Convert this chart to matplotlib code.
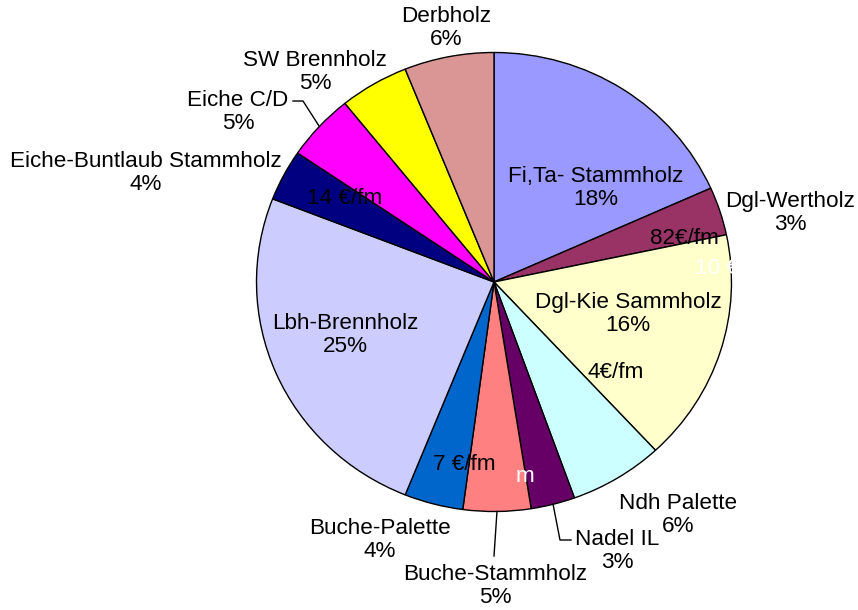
import matplotlib
matplotlib.use("Agg")
import matplotlib.pyplot as plt
import numpy as np

# ---------------- data ----------------
categories = ["Fi,Ta- Stammholz", "Dgl-Wertholz", "Dgl-Kie Sammholz", "Ndh Palette",
              "Nadel IL", "Buche-Stammholz", "Buche-Palette", "Lbh-Brennholz",
              "Eiche-Buntlaub Stammholz", "Eiche C/D", "SW Brennholz", "Derbholz"]
shares = [18.3, 3.4, 16.4, 6.4, 3.0, 4.6, 4.0, 24.8, 3.6, 4.7, 4.7, 6.1]
slice_colors = ["#9999FF", "#993366", "#FFFFCC", "#CCFFFF", "#660066", "#FF8080",
                "#0066CC", "#CCCCFF", "#000080", "#FF00FF", "#FFFF00", "#D99694"]
price_notes = ["14 €/fm", "82€/fm", "10 €/fm", "4€/fm", "7 €/fm", "m"]
price_colors = ["black", "black", "white", "black", "black", "white"]

# ---------------- layout (pixels of the 858x610 canvas) ----------------
W, H = 858, 610
CX, CY, RX, RY = 494.0, 282.0, 237.5, 229.5
label_px = [(596, 188), (790, 213), (628, 314), (678, 515), (617, 551), (495, 586),
            (380, 540), (345, 335), (146, 173), (238, 112), (315, 72), (446, 28)]
note_px = [(345, 198), (684, 238), (733, 268), (616, 373), (464, 465), (525, 476)]
# leader lines: index -> elbow / end points in pixels
leaders = {9: [(303, 101), (293, 101)],
           4: [(560, 540), (571, 540)],
           5: [(494, 556)]}

FONT = "Liberation Sans"
FS = 16.2


def px2d(px, py):
    return (px - CX) / RX, (CY - py) / RY


fig = plt.figure(figsize=(W / 100, H / 100), dpi=100)
ax = fig.add_axes([0, 0, 1, 1])
wedges, _ = ax.pie(shares, colors=slice_colors, startangle=90, counterclock=False,
                   radius=1.0, wedgeprops=dict(edgecolor="black", linewidth=1.0))
ax.set_aspect("auto")
ax.set_xlim(-CX / RX, (W - CX) / RX)
ax.set_ylim(-(H - CY) / RY, CY / RY)
ax.axis("off")

total = float(sum(shares))
for i, (name, val) in enumerate(zip(categories, shares)):
    x, y = px2d(*label_px[i])
    ax.text(x, y, f"{name}\n{round(100 * val / total):d}%", ha="center", va="center",
            fontsize=FS, family=FONT, color="black", linespacing=1.15, zorder=5)

# leader lines, starting at the wedge's middle on the rim
for i, pts in leaders.items():
    w = wedges[i]
    mid = np.deg2rad((w.theta1 + w.theta2) / 2)
    xs = [np.cos(mid)] + [px2d(*p)[0] for p in pts]
    ys = [np.sin(mid)] + [px2d(*p)[1] for p in pts]
    ax.plot(xs, ys, color="black", lw=1.0, zorder=4)

for i, note in enumerate(price_notes):
    x, y = px2d(*note_px[i])
    ax.text(x, y, note, ha="center", va="center", fontsize=FS, family=FONT,
            color=price_colors[i], zorder=5)

fig.savefig("out.png", dpi=100, facecolor="white")
